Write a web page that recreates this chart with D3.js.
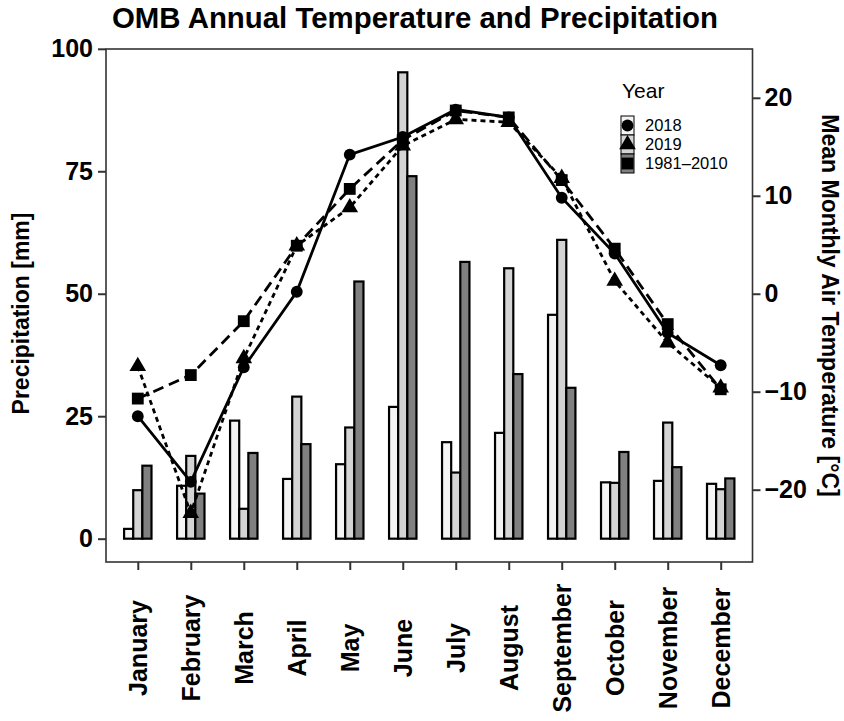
<!DOCTYPE html>
<html>
<head>
<meta charset="utf-8">
<script src="https://cdn.jsdelivr.net/npm/d3@7"></script>
<style>
  html, body { margin: 0; padding: 0; background: #fff; }
  svg { display: block; font-family: "Liberation Sans", Arial, Helvetica, sans-serif; }
</style>
</head>
<body>
<svg id="chart" width="844" height="721"></svg>
<script>
// Months on the x axis
const months = ["January", "February", "March", "April", "May", "June",
  "July", "August", "September", "October", "November", "December"];

// Series names (legend order)
const seriesNames = ["2018", "2019", "1981\u20132010"];

// Monthly precipitation [mm]
const precip2018 = [2.0, 10.8, 24.1, 12.2, 15.2, 26.9, 19.7, 21.6, 45.7, 11.5, 11.8, 11.2];
const precip2019 = [9.9, 16.9, 6.1, 29.0, 22.7, 95.2, 13.5, 55.2, 61.0, 11.4, 23.7, 10.1];
const precipNormal = [14.9, 9.2, 17.5, 19.3, 52.5, 74.0, 56.5, 33.6, 30.8, 17.7, 14.6, 12.3];

// Mean monthly air temperature [°C]
const temp2018 = [-12.5, -19.2, -7.5, 0.2, 14.2, 16.0, 18.8, 18.0, 9.8, 4.1, -4.0, -7.3];
const temp2019 = [-7.4, -22.4, -6.6, 4.9, 8.8, 15.1, 17.8, 17.5, 11.8, 1.3, -5.0, -9.6];
const tempNormal = [-10.7, -8.3, -2.8, 4.9, 10.7, 15.7, 18.7, 18.0, 11.6, 4.6, -3.1, -9.75];

// Axis ticks
const precipTicks = [0, 25, 50, 75, 100];
const tempTicks = [-20, -10, 0, 10, 20];

const precipSeries = [precip2018, precip2019, precipNormal];
const tempSeries = [temp2018, temp2019, tempNormal];

const barFills = ["#f4f4f4", "#d4d4d4", "#808080"];
const dashes = [null, "5,4", "11,6"];
const symbolTypes = [d3.symbolCircle, d3.symbolTriangle, d3.symbolSquare];
const symbolSizes = [110, 120, 140];

const svg = d3.select("#chart");
const panel = { left: 106, right: 752.5, top: 49, bottom: 562 };

// Discrete x positions with 0.6-step padding at each end
const x = d3.scalePoint().domain(months)
  .range([panel.left, panel.right]).padding(0.6);
const groupWidth = 27.4;
const xSub = d3.scaleBand().domain(seriesNames).range([-groupWidth / 2, groupWidth / 2]);

// Precipitation axis, expanded 5% around the data range
const yMax = d3.max(precipSeries.flat());
const pad = yMax * 0.05;
const y = d3.scaleLinear().domain([-pad, yMax + pad]).range([panel.bottom, panel.top]);
// Secondary temperature axis: T = P / 2 - 25
const yT = d3.scaleLinear().domain(y.domain().map(p => p / 2 - 25)).range([panel.bottom, panel.top]);

const axisColor = "#333";

// Bars
months.forEach((m, i) => {
  seriesNames.forEach((s, k) => {
    const v = precipSeries[k][i];
    svg.append("rect")
      .attr("x", x(m) + xSub(s))
      .attr("width", xSub.bandwidth())
      .attr("y", y(v))
      .attr("height", y(0) - y(v))
      .attr("fill", barFills[k])
      .attr("stroke", "#000")
      .attr("stroke-width", 2.2);
  });
});

// Temperature lines
const line = d3.line().x((d, i) => x(months[i])).y(d => yT(d));
tempSeries.forEach((ser, k) => {
  svg.append("path")
    .attr("d", line(ser))
    .attr("fill", "none")
    .attr("stroke", "#000")
    .attr("stroke-width", 2.8)
    .attr("stroke-dasharray", dashes[k]);
});

// Temperature points
tempSeries.forEach((ser, k) => {
  const sym = d3.symbol().type(symbolTypes[k]).size(symbolSizes[k]);
  ser.forEach((v, i) => {
    svg.append("path")
      .attr("d", sym())
      .attr("transform", `translate(${x(months[i])},${yT(v)})`)
      .attr("fill", "#000");
  });
});

// Panel border
svg.append("rect")
  .attr("x", panel.left).attr("y", panel.top)
  .attr("width", panel.right - panel.left).attr("height", panel.bottom - panel.top)
  .attr("fill", "none").attr("stroke", axisColor).attr("stroke-width", 1.6);

// Left axis
const gL = svg.append("g").attr("transform", `translate(${panel.left},0)`)
  .call(d3.axisLeft(y).tickValues(precipTicks).tickSize(8).tickPadding(5));
// Right axis
const gR = svg.append("g").attr("transform", `translate(${panel.right},0)`)
  .call(d3.axisRight(yT).tickValues(tempTicks).tickSize(8).tickPadding(4)
    .tickFormat(d => d < 0 ? "\u2212" + Math.abs(d) : d));
// Bottom axis
const gB = svg.append("g").attr("transform", `translate(0,${panel.bottom})`)
  .call(d3.axisBottom(x).tickSize(8));

[gL, gR, gB].forEach(g => {
  g.select(".domain").remove();
  g.selectAll(".tick line").attr("stroke", axisColor).attr("stroke-width", 2);
  g.selectAll(".tick text").attr("fill", "#000").attr("font-weight", "bold")
    .attr("font-size", 25).attr("font-family", "Liberation Sans, Arial, sans-serif");
});

// Month labels rotated, centred on their tick below the panel
gB.selectAll(".tick text")
  .attr("transform", "translate(0,86) rotate(-90)")
  .attr("text-anchor", "middle")
  .attr("dy", "0.35em")
  .attr("y", 0)
  .attr("x", 0);

// Title
svg.append("text")
  .attr("x", 112).attr("y", 28)
  .attr("font-size", 29).attr("font-weight", "bold")
  .attr("textLength", 606).attr("lengthAdjust", "spacingAndGlyphs")
  .text("OMB Annual Temperature and Precipitation");

// Axis titles
svg.append("text")
  .attr("transform", `translate(29,${(panel.top + panel.bottom) / 2 + 8}) rotate(-90)`)
  .attr("text-anchor", "middle")
  .attr("font-size", 23).attr("font-weight", "bold")
  .text("Precipitation [mm]");
svg.append("text")
  .attr("transform", `translate(822,${(panel.top + panel.bottom) / 2}) rotate(90)`)
  .attr("text-anchor", "middle")
  .attr("font-size", 23).attr("font-weight", "bold")
  .text("Mean Monthly Air Temperature [\u00B0C]");

// Legend
const lg = svg.append("g").attr("transform", "translate(621,0)");
lg.append("text").attr("x", 1).attr("y", 98).attr("font-size", 21).text("Year");
seriesNames.forEach((s, k) => {
  const ky = 116 + k * 19;
  lg.append("rect").attr("x", 0).attr("y", ky).attr("width", 13).attr("height", 19)
    .attr("fill", barFills[k]).attr("stroke", "#000").attr("stroke-width", 1);
  lg.append("path")
    .attr("d", d3.symbol().type(symbolTypes[k]).size(symbolSizes[k])())
    .attr("transform", `translate(6.5,${ky + 9.5})`).attr("fill", "#000");
  lg.append("text").attr("x", 24).attr("y", ky + 15).attr("font-size", 16.5).text(s);
});
</script>
</body>
</html>
